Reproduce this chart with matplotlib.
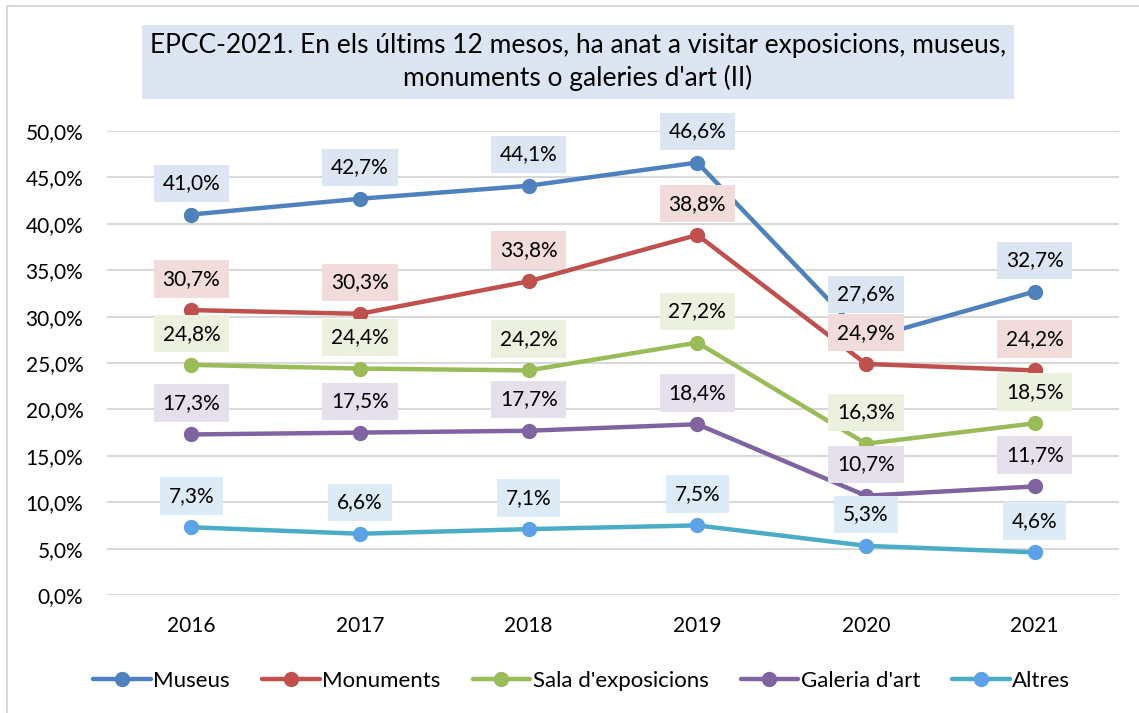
import matplotlib.pyplot as plt
from matplotlib.patches import Rectangle
from matplotlib.ticker import FuncFormatter

plt.rcParams['font.family'] = ['Lato', 'DejaVu Sans']

years = ['2016', '2017', '2018', '2019', '2020', '2021']
museus = [41.0, 42.7, 44.1, 46.6, 27.6, 32.7]
monuments = [30.7, 30.3, 33.8, 38.8, 24.9, 24.2]
sala = [24.8, 24.4, 24.2, 27.2, 16.3, 18.5]
galeria = [17.3, 17.5, 17.7, 18.4, 10.7, 11.7]
altres = [7.3, 6.6, 7.1, 7.5, 5.3, 4.6]

series = [
    ('Museus', museus, '#4F81BD', '#4F81BD', '#DCE6F2'),
    ('Monuments', monuments, '#C0504D', '#C0504D', '#F2DCDB'),
    ("Sala d'exposicions", sala, '#9BBB59', '#9BBB59', '#EBF1DE'),
    ("Galeria d'art", galeria, '#8064A2', '#8064A2', '#E6E0EC'),
    ('Altres', altres, '#4BACC6', '#5BA3E6', '#DDEBF7'),
]

fig = plt.figure(figsize=(11.39, 7.13), dpi=100)
ax = fig.add_axes([107 / 1139, 1 - 595 / 713, 1012 / 1139, 464 / 713])

x = list(range(len(years)))
for name, vals, lc, mc, bc in series:
    ax.plot(x, vals, color=lc, lw=3.2, marker='o', ms=10, mfc=mc, mec=mc,
            label=name, zorder=3, solid_capstyle='round')
    for i, v in enumerate(vals):
        off = 32 if (name == 'Museus' and i == 4) else 22.5
        ax.annotate(f'{v:.1f}%'.replace('.', ','), (i, v), xytext=(0, off),
                    textcoords='offset points', ha='center', va='center',
                    fontsize=15, color='#000000', zorder=5,
                    bbox=dict(boxstyle='square,pad=0.42', fc=bc, ec='none'))

ax.set_xlim(-0.5, len(years) - 0.5)
ax.set_ylim(0, 50)
ax.set_yticks(range(0, 51, 5))
ax.yaxis.set_major_formatter(FuncFormatter(lambda v, p: f'{v:.1f}%'.replace('.', ',')))
ax.set_xticks(x)
ax.set_xticklabels(years)
ax.tick_params(axis='both', length=0, labelsize=15, colors='#000000')
ax.tick_params(axis='x', pad=15)
ax.tick_params(axis='y', pad=17)
ax.grid(axis='y', color='#D9D9D9', lw=1.5, zorder=0)
for s in ax.spines.values():
    s.set_visible(False)

fig.text(578 / 1139, 1 - 62 / 713,
         "EPCC-2021. En els últims 12 mesos, ha anat a visitar exposicions, museus,\nmonuments o galeries d'art (II)",
         ha='center', va='center', fontsize=19, linespacing=1.3,
         bbox=dict(boxstyle='square,pad=0.3', fc='#DCE6F2', ec='none'))

ax.legend(loc='center', bbox_to_anchor=(0.469, -0.185), ncol=5, frameon=False,
          fontsize=16, handlelength=2.6, columnspacing=1.45, handletextpad=0.1)

fig.patches.append(Rectangle((7 / 1139, -0.01), 1.02, 1 - 6 / 713 + 0.01,
                             transform=fig.transFigure, fill=False,
                             ec='#D9D9D9', lw=1.5))

fig.savefig('out.png', dpi=100)
